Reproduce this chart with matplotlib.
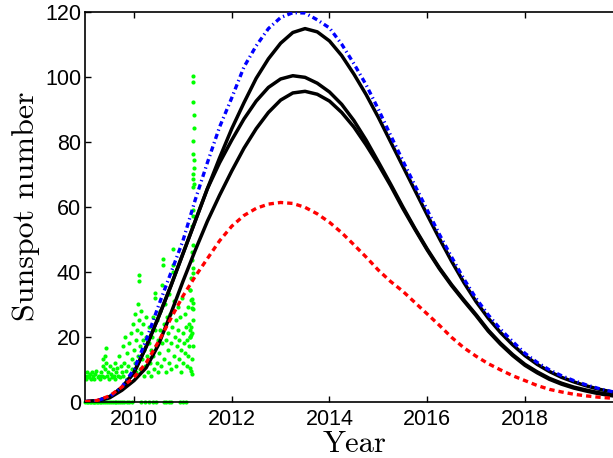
import numpy as np
import matplotlib.pyplot as plt

# sample years for the model curves
years = [2009.0, 2009.25, 2009.5, 2009.75, 2010.0, 2010.25, 2010.5, 2010.75,
         2011.0, 2011.25, 2011.5, 2011.75, 2012.0, 2012.25, 2012.5, 2012.75,
         2013.0, 2013.25, 2013.5, 2013.75, 2014.0, 2014.25, 2014.5, 2014.75,
         2015.0, 2015.25, 2015.5, 2015.75, 2016.0, 2016.25, 2016.5, 2016.75,
         2017.0, 2017.25, 2017.5, 2017.75, 2018.0, 2018.25, 2018.5, 2018.75,
         2019.0, 2019.25, 2019.5, 2019.75, 2020.0]

blue_max = [0, 0.4, 1.5, 4.5, 10, 19, 29.5, 39.5, 49.5, 62, 73.5, 84.5,
            93.5, 103, 109.5, 114.8, 118.2, 119.7, 119.6, 117.5, 115, 110,
            104, 97.5, 90, 82, 74.2, 66.5, 59, 51.5, 44.5, 37.8, 31.8, 26.7,
            22.3, 18.5, 14.9, 12.1, 9.8, 8, 6.5, 5.2, 4.1, 3.2, 2.5]

black_1 = [0, 0.3, 1.5, 4.3, 9, 17, 26, 35.5, 45.5, 55.5, 65.5, 75, 84, 92,
           99.5, 105.5, 110.3, 113.6, 114.8, 113.8, 111, 106.5, 100.8, 94.5,
           87.5, 80, 72.5, 65, 57.5, 50.2, 43.2, 36.7, 30.8, 25.7, 21.3, 17.5,
           14.2, 11.5, 9.3, 7.5, 6.1, 4.9, 3.9, 3.1, 2.4]

black_2 = [0, 0.3, 1.5, 4.3, 9, 17, 26, 35.5, 45.5, 55.5, 65.5, 73.5, 80.5,
           87, 92.5, 96.7, 99.3, 100.3, 99.8, 98, 95.3, 91.5, 86.5, 80.5, 73.8,
           67, 60, 53.3, 47, 41.2, 36, 31.3, 26.8, 22, 18, 14.5, 11.5, 9.2,
           7.2, 5.7, 4.5, 3.6, 2.8, 2.2, 1.7]

black_3 = [0, 0.2, 1.2, 3.5, 6.5, 10.5, 17.5, 27, 37, 46.5, 55.5, 63.5, 71,
           78, 84, 89, 92.8, 95, 95.5, 94.6, 92.5, 89, 84.5, 79, 73, 66.5,
           59.5, 53, 46.7, 40.9, 35.7, 31, 26.5, 21.7, 17.7, 14.2, 11.2, 8.9,
           6.9, 5.4, 4.2, 3.3, 2.5, 1.9, 1.4]

red_min = [0, 0.4, 1.8, 4.5, 7.5, 12, 18.5, 25.5, 32.5, 38.5, 44, 49.5, 54,
           57.3, 59.5, 60.8, 61.3, 61, 59.8, 57.8, 55.2, 52, 48.3, 44.5, 40.5,
           37, 34, 30.5, 27, 23.5, 19.8, 16.6, 14, 11.7, 9.8, 8, 6.5, 5, 3.8,
           3, 2.3, 1.8, 1.4, 1.1, 0.8]

obs_zero_year = [2009.00, 2009.03, 2009.06, 2009.09, 2009.12, 2009.15, 2009.18,
                 2009.21, 2009.24, 2009.27, 2009.30, 2009.33, 2009.36, 2009.40,
                 2009.44, 2009.48, 2009.52, 2009.56, 2009.60, 2009.64, 2009.68,
                 2009.72, 2009.76, 2009.80, 2009.85, 2009.90, 2009.95, 2010.15,
                 2010.22, 2010.30, 2010.38, 2010.44, 2010.62, 2010.66, 2010.72,
                 2010.76, 2010.95, 2011.00, 2011.06]

obs_year = [
    2009.00, 2009.02, 2009.04, 2009.06, 2009.08, 2009.10, 2009.12, 2009.14,
    2009.16, 2009.19, 2009.21, 2009.23, 2009.26, 2009.28, 2009.30, 2009.32,
    2009.34, 2009.36, 2009.37, 2009.38, 2009.40, 2009.41, 2009.42, 2009.43,
    2009.45, 2009.47, 2009.49, 2009.51, 2009.53, 2009.55, 2009.57, 2009.59,
    2009.61, 2009.62,
    2009.64, 2009.66, 2009.68, 2009.70, 2009.71, 2009.73, 2009.75, 2009.77,
    2009.78, 2009.80, 2009.82, 2009.83, 2009.85, 2009.86, 2009.88, 2009.90,
    2009.91, 2009.93, 2009.95, 2009.96, 2009.98, 2009.99,
    2010.01, 2010.02, 2010.04, 2010.05, 2010.06, 2010.08, 2010.09, 2010.10,
    2010.10, 2010.11, 2010.12, 2010.13, 2010.14, 2010.15, 2010.17, 2010.18,
    2010.19, 2010.20, 2010.21, 2010.23, 2010.24, 2010.25, 2010.27, 2010.28,
    2010.30, 2010.31, 2010.32, 2010.34, 2010.35, 2010.36, 2010.38, 2010.39,
    2010.40, 2010.42, 2010.42, 2010.43, 2010.45, 2010.46, 2010.47, 2010.49,
    2010.50,
    2010.51, 2010.53, 2010.54, 2010.55, 2010.57, 2010.58, 2010.59, 2010.60,
    2010.61, 2010.62, 2010.63, 2010.65, 2010.66, 2010.67, 2010.69, 2010.70,
    2010.71, 2010.72, 2010.74, 2010.75, 2010.76, 2010.78, 2010.79, 2010.80,
    2010.80, 2010.81, 2010.82, 2010.84, 2010.85, 2010.86, 2010.88, 2010.89,
    2010.90, 2010.92, 2010.93, 2010.94, 2010.96, 2010.97, 2010.98, 2011.00,
    2011.01, 2011.02, 2011.04, 2011.05, 2011.06, 2011.08, 2011.09, 2011.10,
    2011.11, 2011.12, 2011.13, 2011.14, 2011.15,
    2011.20, 2011.20, 2011.20, 2011.22, 2011.22, 2011.20, 2011.20, 2011.22,
    2011.22, 2011.20, 2011.21, 2011.22, 2011.20, 2011.20, 2011.20, 2011.19,
    2011.21, 2011.18, 2011.19, 2011.21, 2011.20, 2011.17, 2011.15, 2011.19,
    2011.17, 2011.21, 2011.18, 2011.20, 2011.21, 2011.16, 2011.15, 2011.17,
    2011.19, 2011.15, 2011.21, 2011.18, 2011.15, 2011.17, 2011.19,
]
obs_ssn = [
    8, 7, 9, 8, 7.5, 8.5, 7, 9,
    8, 7, 8.5, 9.5, 7.5, 8, 7, 9,
    8, 11, 13, 7.5, 10, 14, 16.5, 12,
    8, 9, 7, 11, 8.5, 7.5, 10, 8,
    12, 7,
    9, 10.5, 8, 14, 7.5, 11, 9, 17,
    8, 12, 20, 9.5, 7, 15, 11, 18,
    8, 21, 13, 10, 24, 16,
    12, 27, 19, 9, 22, 14, 30, 37,
    39, 25, 17, 10, 21, 28, 13, 19,
    24, 8, 16, 11, 20, 26, 14, 9,
    18, 23, 12, 16, 8, 20, 26, 14,
    10, 33.5, 32, 22, 17, 12, 25, 19,
    9,
    15, 22, 28, 11, 18, 36, 44, 42,
    24, 13, 30, 19, 9, 26, 16, 21,
    12, 33, 27, 18, 10, 23, 47, 42,
    40, 31, 14, 20, 25, 11, 17, 29,
    22, 13, 19, 26, 9, 16, 32, 21,
    12, 18, 27, 15, 23, 11, 19, 29,
    14, 24, 17, 34.5, 20,
    100.3, 98.3, 92.2, 88.3, 84.2, 80.3, 76.2, 74.3,
    72, 70.2, 68.5, 67, 66, 59, 57, 54,
    48.3, 46, 43.7, 41, 39.5, 38, 34.5, 31.5,
    31.2, 30.5, 28.8, 28.5, 25.2, 23, 22, 20.5,
    21, 20, 17, 13, 10.5, 9.5, 8.5,
]

plt.rcParams["font.family"] = "Liberation Sans"

fig = plt.figure(figsize=(6.13, 4.58), dpi=100)
# axes run past the right edge of the figure, as in the original
ax = fig.add_axes([85.2 / 613, 56.3 / 458, 537.4 / 613, 390.0 / 458])

green = "#00ff00"
ax.plot(obs_year, obs_ssn, "o", color=green, ms=3.0, mew=0, zorder=2)
ax.plot(obs_zero_year, np.zeros(len(obs_zero_year)), "o", color=green,
        ms=3.0, mew=0, zorder=2, clip_on=False)

for curve in (black_1, black_2, black_3):
    ax.plot(years, curve, "-", color="black", lw=2.5, zorder=3,
            solid_joinstyle="round")
ax.plot(years, blue_max, color="blue", lw=2.4, ls=(0, (1.6, 1.0, 0.4, 1.0)),
        zorder=4)
ax.plot(years, red_min, color="red", lw=2.4, ls=(0, (1.6, 1.2)), zorder=5)

ax.set_xlim(2009, 2020)
ax.set_ylim(0, 120)
ax.set_xticks([2010, 2012, 2014, 2016, 2018])
ax.set_yticks([0, 20, 40, 60, 80, 100, 120])
ax.tick_params(direction="in", top=True, right=True, length=4, width=1,
               labelsize=15.5, pad=3)
ax.tick_params(axis="x", pad=5)
for s in ax.spines.values():
    s.set_linewidth(1.2)

ax.set_xlabel("Year", fontfamily="cmr10", fontsize=22)
ax.set_ylabel("Sunspot number", fontfamily="cmr10", fontsize=23)
ax.xaxis.label.set_va("center")
ax.yaxis.label.set_va("center")
ax.xaxis.set_label_coords(0.502, -0.110)
ax.yaxis.set_label_coords(-0.110, 0.50)

fig.savefig("out.png", dpi=100)
